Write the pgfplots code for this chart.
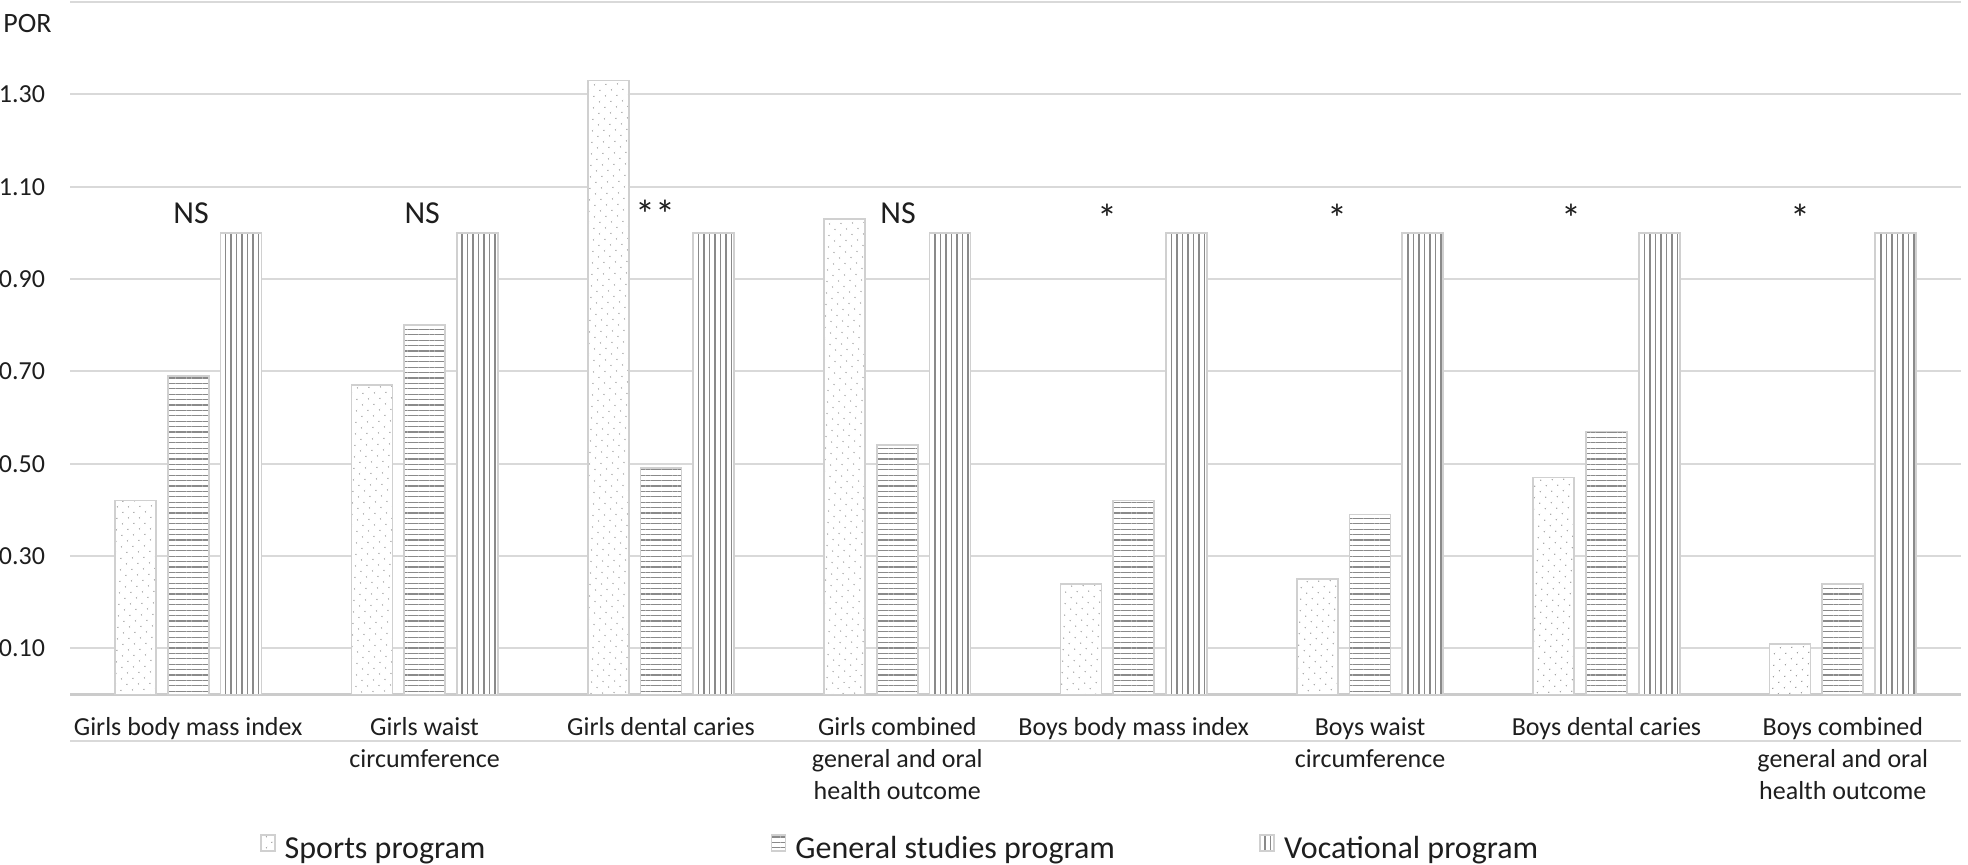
\documentclass[border=0pt]{standalone}
\usepackage{pgfplots}
\pgfplotsset{compat=1.18}
\usepackage{pgfplotstable}
\usepackage{fontspec}
\setmainfont{Carlito}
\usetikzlibrary{patterns.meta}
\definecolor{gridc}{HTML}{D9D9D9}
\definecolor{barc}{HTML}{D0D0D0}
\definecolor{patc}{HTML}{8A8A8A}
\definecolor{txt}{HTML}{1E1E1E}
\newcommand{\st}{\rule{0pt}{9.75pt}}
\pgfplotsset{sqlegend/.style={legend image code/.code={\draw[##1] (0pt,-1pt) rectangle (7pt,7pt);}}}

\pgfplotstableread{
x sports general vocational
1 0.42 0.69 1.00
2 0.67 0.80 1.00
3 1.33 0.49 1.00
4 1.03 0.54 1.00
5 0.24 0.42 1.00
6 0.25 0.39 1.00
7 0.47 0.57 1.00
8 0.11 0.24 1.00
}\datatable

\begin{document}
\begin{tikzpicture}
\useasboundingbox (0,0) rectangle (984pt,-432pt);
\begin{axis}[
  at={(35pt,-370.35pt)}, anchor=south west,
  width=945.5pt, height=369.35pt, scale only axis,
  xmin=0.5, xmax=8.5, ymin=-0.1, ymax=1.5,
  ytick={-0.1,0.1,0.3,0.5,0.7,0.9,1.1,1.3,1.5},
  yticklabels={{},0.10,0.30,0.50,0.70,0.90,1.10,1.30,{}},
  ymajorgrids, grid style={gridc, line width=1pt},
  extra y ticks={0}, extra y tick labels={},
  extra y tick style={grid style={gridc!85!gray, line width=1.2pt}},
  xtick={1,2,3,4,5,6,7,8},
  xticklabels={{\st Girls body mass index},{\st Girls waist\\circumference},{\st Girls dental caries},{\st Girls combined\\general and oral\\health outcome},{\st Boys body mass index},{\st Boys waist\\circumference},{\st Boys dental caries},{\st Boys combined\\general and oral\\health outcome}},
  axis line style={draw=none}, major tick length=0pt, tick style={draw=none},
  xticklabel style={align=center, anchor=north, inner sep=0pt, yshift=12.4pt, font=\fontsize{13}{16}\selectfont, text=txt},
  yticklabel style={anchor=east, inner sep=0pt, xshift=-12.3pt, font=\fontsize{13}{16}\selectfont, text=txt},
  ybar, bar width=20.5pt,
  legend columns=3,
  legend cell align=left,
  legend style={at={(0.1005,-0.1453)}, anchor=west, draw=none, fill=none,
    inner sep=0pt, outer sep=0pt, font=\fontsize{16}{19}\selectfont, text=txt,
    nodes={inner sep=0pt},
    /tikz/every odd column/.append style={column sep=4.5pt},
    /tikz/every even column/.append style={column sep=0pt}},
]
\addplot[bar shift=-26.35pt, draw=barc, line width=0.85pt, fill=white,
  postaction={pattern={Dots[distance=4pt, angle=45, radius=0.35pt]}, pattern color=patc},
  sqlegend]
  table[x=x, y=sports] {\datatable};
\addlegendentry{\makebox[243pt][l]{Sports program}}
\addplot[bar shift=0pt, draw=barc, line width=0.85pt, fill=white,
  postaction={pattern={Lines[angle=0, distance=2.7pt, line width=0.55pt]}, pattern color=patc},
  sqlegend]
  table[x=x, y=general] {\datatable};
\addlegendentry{\makebox[232pt][l]{General studies program}}
\addplot[bar shift=26.35pt, draw=barc, line width=0.85pt, fill=white,
  postaction={pattern={Lines[angle=90, distance=2.75pt, line width=0.55pt]}, pattern color=patc},
  sqlegend]
  table[x=x, y=vocational] {\datatable};
\addlegendentry{Vocational program}

\begin{scope}[every node/.style={anchor=base, inner sep=0pt, font=\fontsize{16}{19}\selectfont, text=txt}]
\node at (axis cs:1.012,1.02) {NS};
\node at (axis cs:1.99,1.02) {NS};
\node at (axis cs:4.003,1.02) {NS};
\end{scope}
\begin{scope}[every node/.style={anchor=base, inner sep=0pt, font=\fontsize{20}{22}\selectfont, text=txt}]
\node at (axis cs:2.978,1.009) {**};
\node at (axis cs:4.89,1.0) {*};
\node at (axis cs:5.86,1.0) {*};
\node at (axis cs:6.85,1.0) {*};
\node at (axis cs:7.82,1.0) {*};
\end{scope}
\end{axis}
\node[anchor=base west, inner sep=0pt, font=\fontsize{14}{16}\selectfont, text=txt] at (1.5pt,-16pt) {POR};
\end{tikzpicture}
\end{document}
